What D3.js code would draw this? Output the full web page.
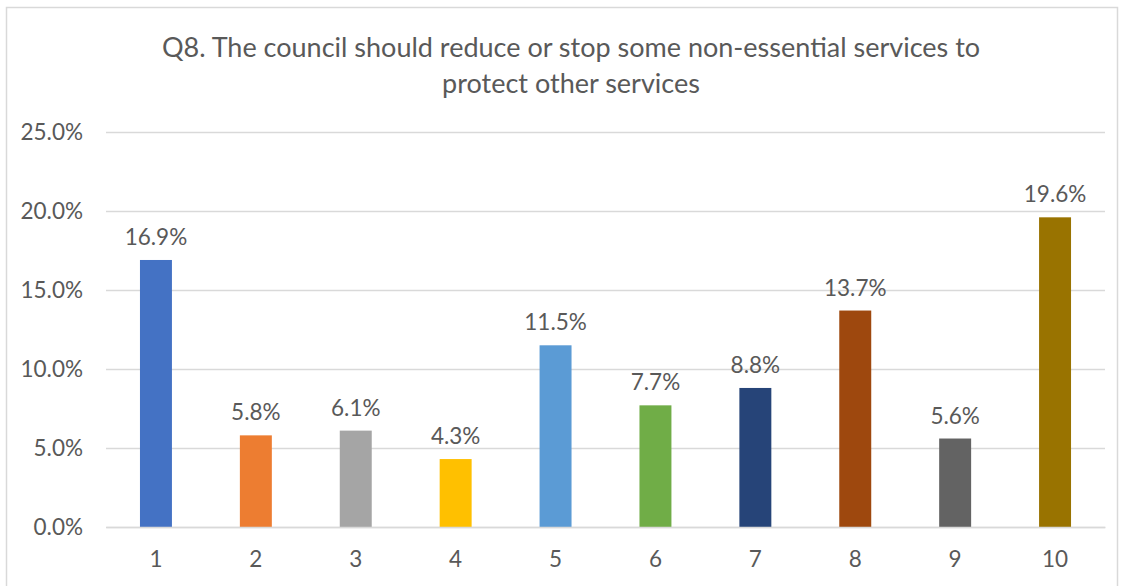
<!DOCTYPE html>
<html>
<head>
<meta charset="utf-8">
<script src="https://cdn.jsdelivr.net/npm/d3@7"></script>
<style>
  html, body { margin: 0; padding: 0; background: #fff; overflow: hidden; }
  svg { display: block; }
</style>
</head>
<body>
<div id="chart"></div>
<script>
// Data
const categories = ["1", "2", "3", "4", "5", "6", "7", "8", "9", "10"];
const values = [16.9, 5.8, 6.1, 4.3, 11.5, 7.7, 8.8, 13.7, 5.6, 19.6];
const barColors = ["#4472C4", "#ED7D31", "#A5A5A5", "#FFC000", "#5B9BD5",
                   "#70AD47", "#264478", "#9E480E", "#636363", "#997300"];
const yTicks = [0, 5, 10, 15, 20, 25];
const titleLines = ["Q8. The council should reduce or stop some non-essential services to",
                    "protect other services"];

const FONT = "Lato, 'Open Sans', sans-serif";
const TEXT_COLOR = "#595959";

const width = 1123, height = 586;
const margin = { top: 132, right: 18, bottom: 59, left: 106 };
const innerWidth = width - margin.left - margin.right;
const innerHeight = height - margin.top - margin.bottom;

const svg = d3.select("#chart").append("svg")
    .attr("width", width)
    .attr("height", height)
    .attr("font-family", FONT);

// chart frame (bottom edge runs off the picture)
svg.append("path")
    .attr("d", `M6.5,${height + 2} V7.5 H1117.5 V${height + 2}`)
    .attr("fill", "none")
    .attr("stroke", "#d9d9d9")
    .attr("stroke-width", 1.5);

// title
svg.append("g")
    .attr("font-size", 27)
    .attr("fill", TEXT_COLOR)
    .selectAll("text")
    .data(titleLines)
    .join("text")
    .attr("x", 571)
    .attr("y", (d, i) => 57 + i * 36)
    .attr("text-anchor", "middle")
    .text(d => d);

const g = svg.append("g")
    .attr("transform", `translate(${margin.left},${margin.top})`);

var x = d3.scaleBand()
    .domain(categories)
    .range([0, innerWidth])
    .paddingInner(0.68)
    .paddingOuter(0.34);

var y = d3.scaleLinear()
    .domain([0, 25])
    .range([innerHeight, 0]);

// gridlines + y labels
const yAxis = g.append("g")
    .call(d3.axisLeft(y).tickValues(yTicks).tickSize(-innerWidth)
        .tickFormat(d => d.toFixed(1) + "%").tickPadding(23))
    .attr("font-family", FONT)
    .attr("font-size", 22.5);
yAxis.select(".domain").remove();
yAxis.selectAll("line").attr("stroke", "#d9d9d9").attr("stroke-width", 1.5);
yAxis.selectAll("text").attr("fill", TEXT_COLOR);

// bars
g.selectAll("rect.bar")
    .data(values)
    .join("rect")
    .attr("class", "bar")
    .attr("x", (d, i) => x(categories[i]))
    .attr("y", d => y(d))
    .attr("width", x.bandwidth())
    .attr("height", d => innerHeight - y(d))
    .attr("fill", (d, i) => barColors[i]);

// value labels
g.append("g")
    .attr("font-size", 22.5)
    .attr("fill", TEXT_COLOR)
    .selectAll("text")
    .data(values)
    .join("text")
    .attr("x", (d, i) => x(categories[i]) + x.bandwidth() / 2)
    .attr("y", d => y(d) - 15)
    .attr("text-anchor", "middle")
    .text(d => d.toFixed(1) + "%");

// x axis
const xAxis = g.append("g")
    .attr("transform", `translate(0,${innerHeight})`)
    .call(d3.axisBottom(x).tickSize(0).tickPadding(24))
    .attr("font-family", FONT)
    .attr("font-size", 22.5);
xAxis.select(".domain").attr("stroke", "#d9d9d9").attr("stroke-width", 1.5);
xAxis.selectAll("text").attr("fill", TEXT_COLOR);
</script>
</body>
</html>
